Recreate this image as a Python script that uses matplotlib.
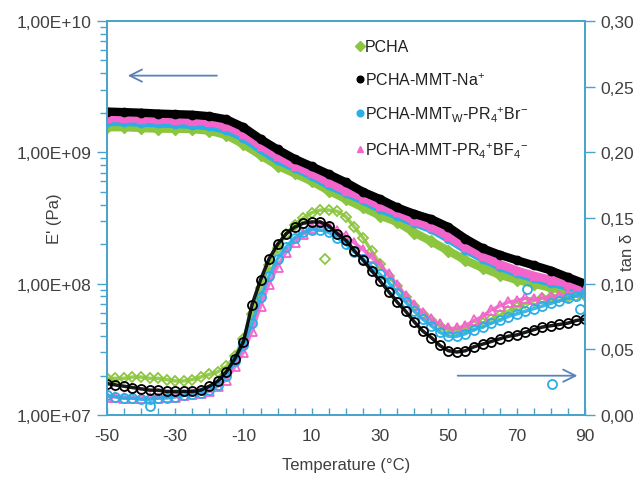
import matplotlib
matplotlib.use("Agg")
import matplotlib.pyplot as plt
from matplotlib.ticker import FixedLocator, MultipleLocator, FuncFormatter, LogLocator

plt.rcParams['font.family'] = ['Liberation Sans', 'DejaVu Sans']
plt.rcParams['mathtext.fontset'] = 'custom'
plt.rcParams['mathtext.rm'] = 'Liberation Sans'
plt.rcParams['axes.unicode_minus'] = False

# Storage modulus E' (Pa), read every 5 degC
temp_e = [-50, -45, -40, -35, -30, -25, -20, -15, -10, -5, 0, 5, 10, 15, 20,
          25, 30, 35, 40, 45, 50, 55, 60, 65, 70, 75, 80, 85, 90]
e_pcha = [1.55e9, 1.55e9, 1.53e9, 1.51e9, 1.51e9, 1.50e9, 1.46e9, 1.35e9, 1.15e9, 9.5e8,
          7.9e8, 6.9e8, 6.0e8, 5.1e8, 4.4e8, 3.8e8, 3.3e8, 2.95e8, 2.45e8, 2.1e8,
          1.78e8, 1.51e8, 1.32e8, 1.17e8, 1.07e8, 1.0e8, 9.3e7, 8.9e7, 8.5e7]
e_na = [2.04e9, 2.02e9, 2.00e9, 1.97e9, 1.95e9, 1.93e9, 1.88e9, 1.78e9, 1.55e9, 1.26e9,
        1.05e9, 8.9e8, 7.8e8, 6.8e8, 5.9e8, 5.0e8, 4.4e8, 3.8e8, 3.4e8, 3.1e8,
        2.7e8, 2.2e8, 1.86e8, 1.66e8, 1.51e8, 1.38e8, 1.26e8, 1.12e8, 1.0e8]
e_br = [1.70e9, 1.70e9, 1.68e9, 1.66e9, 1.64e9, 1.62e9, 1.58e9, 1.48e9, 1.29e9, 1.05e9,
        8.7e8, 7.6e8, 6.6e8, 5.6e8, 4.9e8, 4.3e8, 3.7e8, 3.3e8, 2.9e8, 2.6e8,
        2.2e8, 1.82e8, 1.55e8, 1.35e8, 1.2e8, 1.1e8, 1.02e8, 9.5e7, 9.1e7]
e_bf4 = [1.82e9, 1.82e9, 1.80e9, 1.78e9, 1.76e9, 1.74e9, 1.70e9, 1.58e9, 1.38e9, 1.12e9,
         9.3e8, 7.9e8, 6.9e8, 5.9e8, 5.1e8, 4.5e8, 3.9e8, 3.5e8, 3.0e8, 2.7e8,
         2.3e8, 1.9e8, 1.62e8, 1.41e8, 1.26e8, 1.15e8, 1.07e8, 1.0e8, 9.3e7]

# tan delta, read every 2.5 degC
temp_t = [-50, -47.5, -45, -42.5, -40, -37.5, -35, -32.5, -30, -27.5, -25, -22.5, -20,
          -17.5, -15, -12.5, -10, -7.5, -5, -2.5, 0, 2.5, 5, 7.5, 10, 12.5, 15, 17.5,
          20, 22.5, 25, 27.5, 30, 32.5, 35, 37.5, 40, 42.5, 45, 47.5, 50, 52.5, 55,
          57.5, 60, 62.5, 65, 67.5, 70, 72.5, 75, 77.5, 80, 82.5, 85, 87.5, 90]
tan_pcha = [0.028, 0.028, 0.028, 0.029, 0.029, 0.028, 0.028, 0.027, 0.026, 0.026, 0.027,
            0.029, 0.031, 0.033, 0.037, 0.045, 0.058, 0.077, 0.097, 0.114, 0.127, 0.138,
            0.145, 0.150, 0.154, 0.156, 0.156, 0.155, 0.151, 0.143, 0.135, 0.125, 0.115,
            0.106, 0.098, 0.090, 0.083, 0.077, 0.072, 0.068, 0.065, 0.065, 0.066, 0.068,
            0.070, 0.073, 0.076, 0.079, 0.082, 0.085, 0.087, 0.089, 0.090, 0.090, 0.090,
            0.091, 0.091]
tan_na = [0.024, 0.023, 0.022, 0.021, 0.020, 0.019, 0.019, 0.018, 0.018, 0.018, 0.018,
          0.019, 0.022, 0.026, 0.033, 0.043, 0.056, 0.084, 0.103, 0.119, 0.130, 0.138,
          0.143, 0.146, 0.147, 0.147, 0.144, 0.138, 0.133, 0.125, 0.118, 0.110, 0.102,
          0.094, 0.086, 0.079, 0.071, 0.064, 0.059, 0.053, 0.049, 0.048, 0.049, 0.052,
          0.054, 0.056, 0.058, 0.060, 0.061, 0.063, 0.065, 0.067, 0.068, 0.069, 0.070,
          0.072, 0.073]
tan_br = [0.015, 0.014, 0.013, 0.013, 0.012, 0.012, 0.013, 0.013, 0.014, 0.015, 0.016,
          0.017, 0.019, 0.023, 0.030, 0.041, 0.053, 0.070, 0.090, 0.106, 0.119, 0.128,
          0.135, 0.139, 0.141, 0.141, 0.139, 0.135, 0.130, 0.124, 0.119, 0.113, 0.107,
          0.101, 0.093, 0.086, 0.079, 0.073, 0.068, 0.063, 0.060, 0.060, 0.062, 0.065,
          0.067, 0.070, 0.072, 0.075, 0.077, 0.079, 0.081, 0.083, 0.085, 0.087, 0.089,
          0.091, 0.093]
tan_bf4 = [0.014, 0.014, 0.013, 0.013, 0.013, 0.013, 0.013, 0.014, 0.014, 0.015, 0.016,
           0.017, 0.018, 0.022, 0.027, 0.037, 0.048, 0.064, 0.083, 0.100, 0.113, 0.124,
           0.132, 0.138, 0.142, 0.144, 0.143, 0.140, 0.136, 0.131, 0.126, 0.120, 0.114,
           0.107, 0.099, 0.091, 0.084, 0.078, 0.073, 0.069, 0.066, 0.066, 0.068, 0.072,
           0.075, 0.080, 0.083, 0.086, 0.087, 0.089, 0.088, 0.089, 0.090, 0.091, 0.092,
           0.094, 0.095]

# stray points
out_pcha_t = [13.9]
out_pcha_v = [0.119]
out_br_t = [-37.4, 73, 80.4, 88.5]
out_br_v = [0.007, 0.096, 0.024, 0.081]

x_ticks = [-50, -30, -10, 10, 30, 50, 70, 90]

labels = ["PCHA", r"PCHA-MMT-Na$^{+}$",
          r"PCHA-MMT$_{\mathrm{W}}$-PR$_{4}$$^{+}$Br$^{-}$",
          r"PCHA-MMT-PR$_{4}$$^{+}$BF$_{4}$$^{-}$"]
green = "#8cc63f"
black = "#000000"
blue = "#29aee6"
pink = "#f266cc"
axcol = "#45a3cc"
arrowcol = "#5a82b8"
txtcol = "#404040"

fig = plt.figure(figsize=(6.4, 4.85), dpi=100)
ax = fig.add_axes([0.167, 0.142, 0.747, 0.813])
ax2 = ax.twinx()

# E' curves (filled markers on thick line)
handles = []
for vals, col, mk, lab in [(e_pcha, green, "D", labels[0]), (e_br, blue, "o", labels[2]),
                           (e_bf4, pink, "^", labels[3]), (e_na, black, "o", labels[1])]:
    ax.plot(temp_e, vals, color=col, lw=6, solid_capstyle="round", zorder=2)
    h, = ax.plot(temp_e, vals, color=col, marker=mk, ms=6, lw=0, zorder=2, label=lab)
    handles.append(h)

# tan delta curves (open markers)
for vals, col, mk in [(tan_pcha, green, "D"), (tan_bf4, pink, "^"),
                      (tan_br, blue, "o"), (tan_na, black, "o")]:
    ax2.plot(temp_t, vals, color=col, lw=2.5, alpha=0.9)
    ax2.plot(temp_t, vals, color=col, marker=mk, ms=6.5 if mk != "D" else 5.5, lw=0,
             mfc="none", mew=1.3)
ax2.plot(out_pcha_t, out_pcha_v, color=green, marker="D", ms=5.5, lw=0, mfc="none", mew=1.3)
ax2.plot(out_br_t, out_br_v, color=blue, marker="o", ms=6.5, lw=0, mfc="none", mew=1.3)

ax.set_xlim(-50, 90)
ax.set_yscale("log")
ax.set_ylim(1e7, 1e10)
ax2.set_ylim(0, 0.30)

ax.xaxis.set_major_locator(FixedLocator(x_ticks))
ax.xaxis.set_minor_locator(MultipleLocator(5))
ax.yaxis.set_major_locator(FixedLocator([1e7, 1e8, 1e9, 1e10]))
ax.yaxis.set_minor_locator(LogLocator(base=10, subs=range(2, 10)))
ax.yaxis.set_major_formatter(FuncFormatter(lambda v, p: f"{v:.2E}".replace(".", ",")))
ax.yaxis.set_minor_formatter(FuncFormatter(lambda v, p: ""))
ax2.yaxis.set_major_locator(MultipleLocator(0.05))
ax2.yaxis.set_major_formatter(FuncFormatter(lambda v, p: f"{v:.2f}".replace(".", ",")))

ax.tick_params(axis="x", which="both", direction="in", length=5, width=1,
               color=axcol, labelsize=12.5, labelcolor=txtcol, pad=9)
ax.tick_params(axis="y", which="major", direction="out", length=7, width=1,
               color=axcol, labelsize=12.5, labelcolor=txtcol, pad=4)
ax.tick_params(axis="y", which="minor", direction="out", length=5, width=1, color=axcol)
ax2.tick_params(axis="y", which="major", direction="out", length=7, width=1,
                color=axcol, labelsize=12.5, labelcolor=txtcol, pad=4)
for a in (ax, ax2):
    for s in a.spines.values():
        s.set_color(axcol)
        s.set_linewidth(1.2)

ax.set_xlabel("Temperature (°C)", fontsize=12, color=txtcol, labelpad=10)
fig.text(55 / 640, 1 - 219 / 485, "E' (Pa)", rotation=90, ha="center", va="center",
         fontsize=12, color=txtcol)
fig.text(628 / 640, 1 - 252 / 485, "tan δ", rotation=90, ha="center", va="center",
         fontsize=12, color=txtcol)

# direction arrows
ax.annotate("", xy=(0.038, 0.861), xytext=(0.236, 0.861), xycoords="axes fraction",
            arrowprops=dict(arrowstyle="->", color=arrowcol, lw=1.3, mutation_scale=22))
ax.annotate("", xy=(0.99, 0.10), xytext=(0.728, 0.10), xycoords="axes fraction",
            arrowprops=dict(arrowstyle="->", color=arrowcol, lw=1.3, mutation_scale=22))

order = [0, 3, 1, 2]
leg = ax2.legend([handles[i] for i in order], [handles[i].get_label() for i in order],
                 loc="upper left", bbox_to_anchor=(0.49, 0.99), frameon=False,
                 fontsize=11.5, handlelength=0.5, handletextpad=0.1, labelspacing=1.05,
                 markerscale=0.8)
for t in leg.get_texts():
    t.set_color("#202020")

fig.savefig("out.png", dpi=100)
